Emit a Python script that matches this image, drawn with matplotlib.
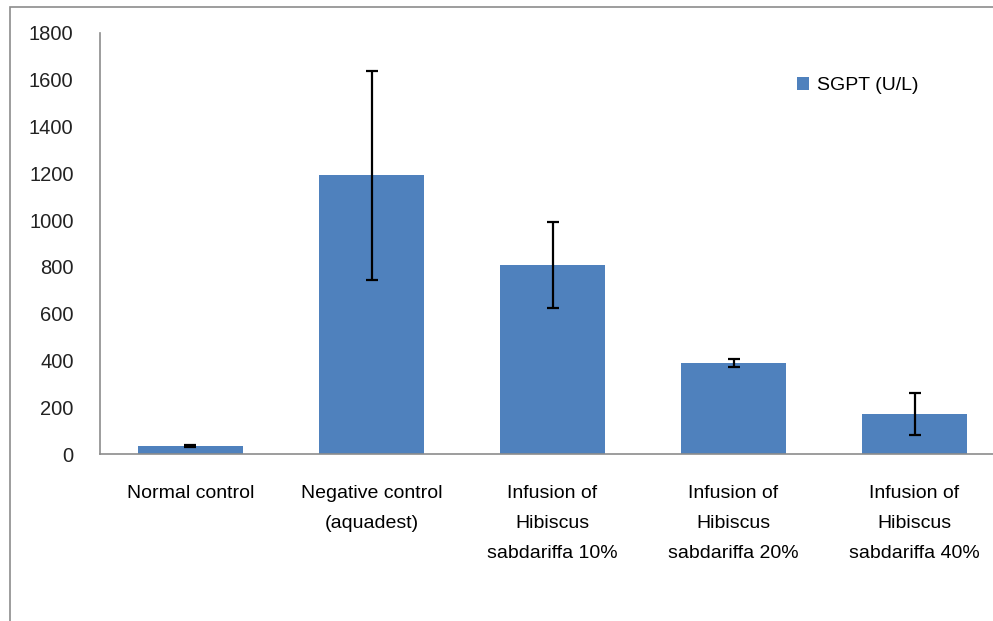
import matplotlib
matplotlib.use('Agg')
from matplotlib import pyplot as plt
from matplotlib.patches import Rectangle
import numpy as np

plt.rcParams['font.family'] = ['Liberation Sans', 'DejaVu Sans']

groups = ['Normal control', 'Negative control\n(aquadest)',
          'Infusion of\nHibiscus\nsabdariffa 10%',
          'Infusion of\nHibiscus\nsabdariffa 20%',
          'Infusion of\nHibiscus\nsabdariffa 40%']
sgpt = [34, 1192, 808, 389, 171]
sgpt_err = [3, 446, 182, 18, 88]
yticks = [0, 200, 400, 600, 800, 1000, 1200, 1400, 1600, 1800]

fig = plt.figure(figsize=(9.93, 6.21), dpi=100)
ax = fig.add_axes([0.1007, 0.2689, 0.9114, 0.678])

x = np.arange(len(groups))
ax.bar(x, sgpt, width=0.575, color='#4f81bd', label='SGPT (U/L)', zorder=2)
ax.errorbar(x, sgpt, yerr=sgpt_err, fmt='none', ecolor='black',
            elinewidth=1.6, capsize=4, capthick=1.6, zorder=3)

ax.set_xlim(-0.5, 4.5)
ax.set_ylim(0, 1800)
ax.set_yticks(yticks)
ax.set_xticks(x)
ax.set_xticklabels(groups, fontsize=14, linespacing=2.0)
ax.tick_params(axis='y', length=0, pad=19, labelsize=14.5)
ax.tick_params(axis='x', length=0, pad=22)
for lab in ax.get_yticklabels():
    lab.set_color('#222222')

for s in ['top', 'right']:
    ax.spines[s].set_visible(False)
for s in ['left', 'bottom']:
    ax.spines[s].set_color('#8c8c8c')
    ax.spines[s].set_linewidth(1.2)

ax.legend(loc='upper left', bbox_to_anchor=(0.751, 0.936), frameon=False,
          fontsize=14, handlelength=0.6, handleheight=0.6, handletextpad=0.4)

# outer chart border
fig.patches.append(Rectangle((10/993, -0.1), 1.2, 1 - 7/621 + 0.1,
                             transform=fig.transFigure, fill=False,
                             edgecolor='#8c8c8c', linewidth=1.2))

fig.savefig('out.png', dpi=100)
